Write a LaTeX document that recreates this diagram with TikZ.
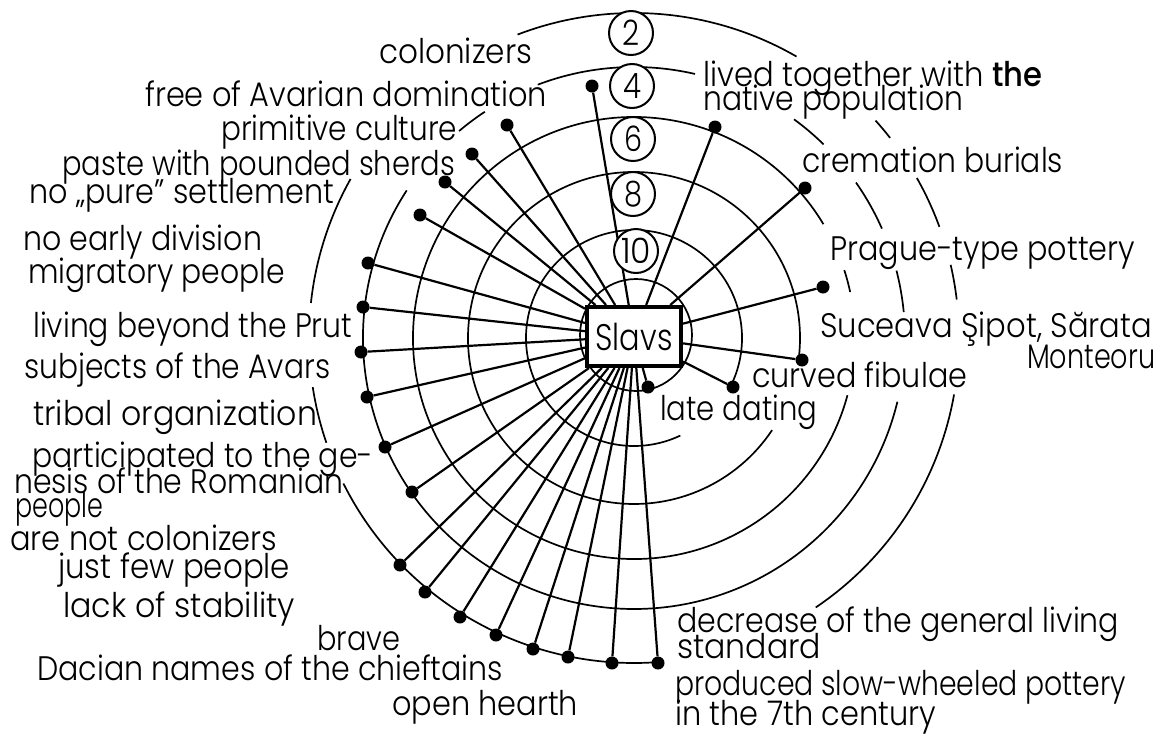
\documentclass[tikz,border=0pt]{standalone}
\usepackage{fontspec}
\usepackage{graphicx}
\newfontfamily\labfont{Poppins Light}[BoldFont={Poppins Medium}]
\usetikzlibrary{calc}
\pgfdeclarelayer{bg}
\pgfsetlayers{bg,main}
\newsavebox\fitbox
\newcommand\fitw[2]{\sbox\fitbox{#2}\pgfmathsetmacro\fitsx{#1/\the\wd\fitbox}\scalebox{\fitsx}[1]{\usebox\fitbox}}
\newcommand\seg[3]{\draw[arcl] ($(C)+(#2:#1)$) arc[start angle=#2,end angle=#3,radius=#1];}
\begin{document}
\begin{tikzpicture}[x=1pt,y=1pt,
  lab/.style={font=\labfont\fontsize{34}{34}\selectfont, inner sep=0pt, anchor=base west},
  arcl/.style={line width=1.7pt},
  spoke/.style={line width=2.2pt},
  dot/.style={circle, fill=black, inner sep=0pt, minimum size=13pt},
  numc/.style={circle, draw, line width=2pt, fill=white, minimum size=44pt, inner sep=0pt, font=\labfont\fontsize{35}{35}\selectfont},
  box/.style={draw, line width=4pt, fill=white, minimum width=94pt, minimum height=59pt, inner sep=0pt, font=\labfont\fontsize{37}{37}\selectfont}]
\useasboundingbox (0,0) rectangle (1173,-737);
\coordinate (C) at (634,-338);
% centre box
\node[box] (slavs) at (634,-336.5) {\fitw{77}{Slavs}};
% level circles
\node[numc] (n2) at (631,-33) {\fitw{17}{2}};
\node[numc] (n4) at (632,-86) {\fitw{18}{4}};
\node[numc] (n6) at (633,-139) {\fitw{18}{6}};
\node[numc] (n8) at (633,-194) {\fitw{18}{8}};
\node[numc] (n10) at (636,-251) {\fitw{30}{10}};
% dots
\node[dot] (d1) at (592,-86) {};
\node[dot] (d2) at (507,-125) {};
\node[dot] (d3) at (472,-154) {};
\node[dot] (d4) at (445,-182) {};
\node[dot] (d5) at (420,-215) {};
\node[dot] (d6) at (368,-263) {};
\node[dot] (d7) at (363,-307) {};
\node[dot] (d8) at (361,-352) {};
\node[dot] (d9) at (367,-397) {};
\node[dot] (d10) at (385,-447) {};
\node[dot] (d11) at (412,-492) {};
\node[dot] (d12) at (400,-565) {};
\node[dot] (d13) at (425,-592) {};
\node[dot] (d14) at (460,-617) {};
\node[dot] (d15) at (496,-635) {};
\node[dot] (d16) at (533,-649) {};
\node[dot] (d17) at (568,-657) {};
\node[dot] (d18) at (612,-663) {};
\node[dot] (d19) at (658,-663) {};
\node[dot] (d20) at (648,-387) {};
\node[dot] (d21) at (733,-387) {};
\node[dot] (d22) at (802,-360) {};
\node[dot] (d23) at (823,-287) {};
\node[dot] (d24) at (805,-188) {};
\node[dot] (d25) at (715,-127) {};
\begin{pgfonlayer}{bg}
% ring 2
\seg{325}{111}{60}
\seg{325}{42}{38}
\seg{325}{29.5}{20}
\seg{325}{13}{6.8}
\seg{325}{-10}{-56}
\seg{325}{206.6}{274.2}
\seg{325}{150.7}{173.8}
\seg{325}{188.7}{198.8}
% ring 4
\seg{271}{110.8}{77}
\seg{271}{53.8}{45.6}
\seg{271}{35}{23.8}
\seg{271}{14.4}{5.5}
\seg{271}{147}{346.4}
\seg{271}{130.2}{123.4}
% ring 6
\seg{221}{31}{345}
\seg{221}{17.9}{12}
% ring 8
\seg{166}{-7.5}{326.3}
% ring 10
\seg{108}{-26}{295.4}
% inner ring
\draw[arcl] (636,-335) circle[radius=56];
% spokes
\foreach \k in {1,...,25}{\draw[spoke] (slavs) -- (d\k);}
\end{pgfonlayer}
% labels
\node[lab] (t01) at (379,-63) {\fitw{153}{colonizers}};
\node[lab] (t02) at (145,-106) {\fitw{402}{free of Avarian domination}};
\node[lab] (t03) at (221,-140) {\fitw{236}{primitive culture}};
\node[lab] (t04) at (62,-175) {\fitw{393}{paste with pounded sherds}};
\node[lab] (t05) at (29,-203) {\fitw{305}{no „pure” settlement}};
\node[lab] (t06) at (23,-250) {\fitw{239}{no early division}};
\node[lab] (t07) at (28,-283) {\fitw{257}{migratory people}};
\node[lab] (t08) at (33,-337) {\fitw{319}{living beyond the Prut}};
\node[lab] (t09) at (24,-378) {\fitw{306}{subjects of the Avars}};
\node[lab] (t10) at (33,-425) {\fitw{284}{tribal organization}};
\node[lab] (t11a) at (32,-467) {\fitw{341}{participated to the ge-}};
\node[lab] (t11b) at (14,-493) {\fitw{329}{nesis of the Romanian}};
\node[lab] (t11c) at (15,-517) {\fitw{88}{people}};
\node[lab] (t12) at (10,-550) {\fitw{267}{are not colonizers}};
\node[lab] (t13) at (58,-578) {\fitw{232}{just few people}};
\node[lab] (t14) at (63,-617) {\fitw{232}{lack of stability}};
\node[lab] (t15) at (317,-650) {\fitw{83}{brave}};
\node[lab] (t16) at (37,-680) {\fitw{466}{Dacian names of the chieftains}};
\node[lab] (t17) at (392,-715) {\fitw{186}{open hearth}};
\node[lab] (t18a) at (703,-86) {\fitw{339}{lived together with \textbf{the}}};
\node[lab] (t18b) at (703,-110) {\fitw{260}{native population}};
\node[lab] (t19) at (802,-172) {\fitw{261}{cremation burials}};
\node[lab] (t20) at (830,-260) {\fitw{305}{Prague-type pottery}};
\node[lab] (t21a) at (820,-337) {\fitw{332}{Suceava Şipot, Sărata}};
\node[lab] (t21b) at (1027,-368) {\fitw{128}{Monteoru}};
\node[lab] (t22) at (752,-387) {\fitw{215}{curved fibulae}};
\node[lab] (t23) at (660,-420) {\fitw{157}{late dating}};
\node[lab] (t24a) at (677,-632) {\fitw{442}{decrease of the general living}};
\node[lab] (t24b) at (677,-658) {\fitw{144}{standard}};
\node[lab] (t25a) at (675,-695) {\fitw{451}{produced slow-wheeled pottery}};
\node[lab] (t25b) at (675,-725) {\fitw{261}{in the 7th century}};
\end{tikzpicture}
\end{document}
